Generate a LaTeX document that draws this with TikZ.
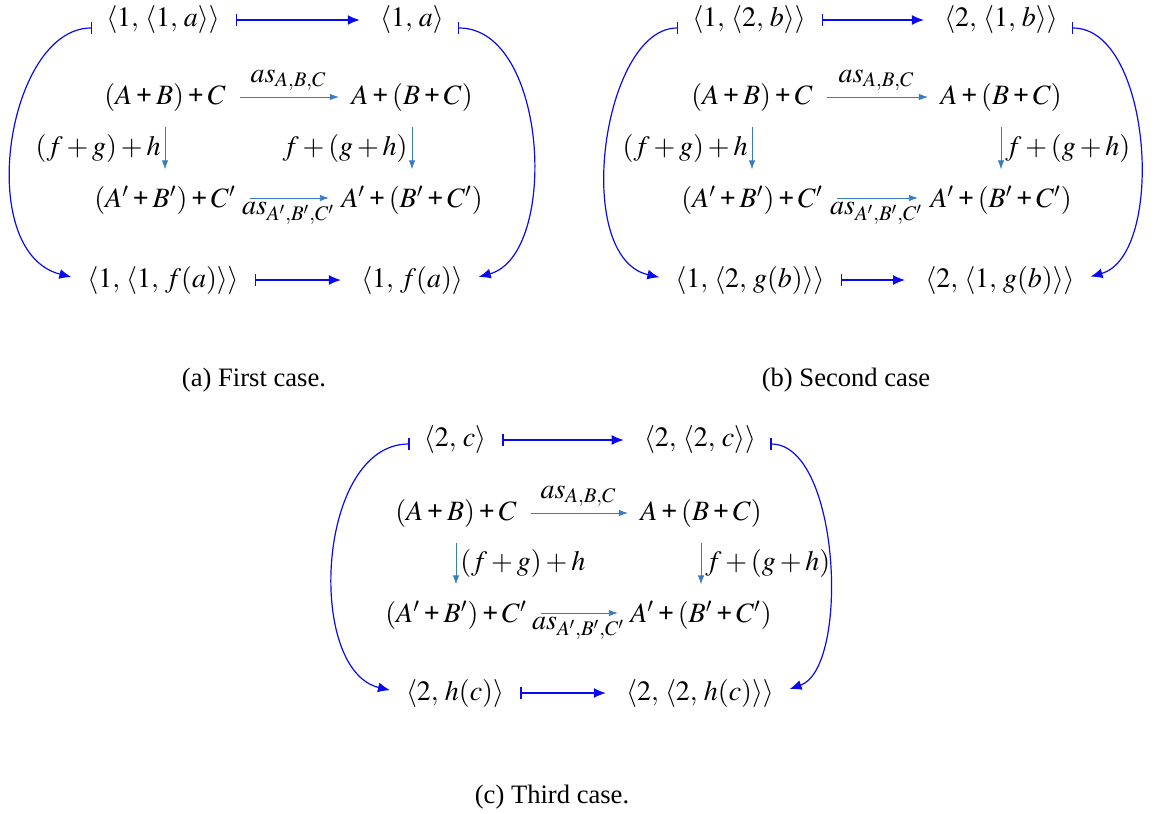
\documentclass[tikz,border=0pt]{standalone}
\usepackage{amsmath}
\usepackage{mathptmx}
\usepackage{fontspec}
\setmainfont{Liberation Serif}
\newfontfamily\capfont{Liberation Serif}
\usetikzlibrary{arrows.meta}
\definecolor{MapBlue}{RGB}{10,10,240}
\definecolor{AsBlue}{RGB}{56,122,196}
\newcommand{\bp}{\mathbin{\textbf{+}}}
\tikzset{
  >={Latex},
  % elementi e oggetti
  elem/.style={inner sep=2pt,font=\fontsize{14}{17}\selectfont},
  obj/.style={elem},
  caption/.style={font=\capfont\fontsize{13.3}{16}\selectfont},
  % frecce
  mapsto/.style={{Bar[width=6pt]}-{Latex[length=6pt,width=5pt]},MapBlue,semithick},
  mapsto h/.style={mapsto,shorten <=6pt,shorten >=8pt},
  bend map/.style={mapsto,shorten <=5pt,shorten >=6pt},
  assoc/.style={-{Latex[length=4.5pt,width=3.2pt]},AsBlue,thin},
  assoc h/.style={assoc,shorten <=5pt,shorten >=4pt},
  assoc v/.style={assoc,shorten <=6pt,shorten >=6pt},
  lab/.style={text=black,font=\fontsize{14}{17}\selectfont,inner sep=2pt}
}
\begin{document}
\begin{tikzpicture}[x=0.5pt,y=-0.5pt]
  \useasboundingbox (0,0) rectangle (1157,814);

  % (a) primo caso
  \node[elem] (a-tl) at (163,20) {$\langle 1,\,\langle 1,\,a\rangle\rangle$};
  \node[elem] (a-tr) at (412,20) {$\langle 1,\,a\rangle$};
  \node[elem] (a-bl) at (163,280) {$\langle 1,\,\langle 1,\,f(a)\rangle\rangle$};
  \node[elem] (a-br) at (412,280) {$\langle 1,\,f(a)\rangle$};
  \node[obj] (a-ab) at (165,97) {$(A\bp B)\bp C$};
  \node[obj] (a-bc) at (412,97) {$A\bp(B\bp C)$};
  \node[obj] (a-ab2) at (165,200) {$(A'\bp B')\bp C'$};
  \node[obj] (a-bc2) at (412,200) {$A'\bp(B'\bp C')$};
  \draw[mapsto h] (a-tl) -- (a-tr);
  \draw[mapsto h] (a-bl) -- (a-br);
  \draw[bend map] ([yshift=-4pt]a-tl.west) .. controls +(-95,0) and +(-110,-28) .. (a-bl.west);
  \draw[bend map] ([yshift=-4pt]a-tr.east) .. controls +(100,0) and +(92,-25) .. (a-br.east);
  \draw[assoc h] (a-ab) -- node[lab,above=1pt]{$as_{A,B,C}$} (a-bc);
  \draw[assoc h] ([yshift=1pt]a-ab2.east) -- node[lab,below]{$as_{A',B',C'}$} ([yshift=1pt]a-bc2.west);
  \draw[assoc v] (a-ab) -- node[lab,left]{$(f+g)+h$} (a-ab2);
  \draw[assoc v] (a-bc) -- node[lab,left]{$f+(g+h)$} (a-bc2);
  \node[caption] (a-cap) at (254,380) {(a) First case.};

  % (b) secondo caso
  \node[elem] (b-tl) at (749,20) {$\langle 1,\,\langle 2,\,b\rangle\rangle$};
  \node[elem] (b-tr) at (1001,20) {$\langle 2,\,\langle 1,\,b\rangle\rangle$};
  \node[elem] (b-bl) at (750,280) {$\langle 1,\,\langle 2,\,g(b)\rangle\rangle$};
  \node[elem] (b-br) at (1000,280) {$\langle 2,\,\langle 1,\,g(b)\rangle\rangle$};
  \node[obj] (b-ab) at (752,97) {$(A\bp B)\bp C$};
  \node[obj] (b-bc) at (1001,97) {$A\bp(B\bp C)$};
  \node[obj] (b-ab2) at (752,200) {$(A'\bp B')\bp C'$};
  \node[obj] (b-bc2) at (1001,200) {$A'\bp(B'\bp C')$};
  \draw[mapsto h] (b-tl) -- (b-tr);
  \draw[mapsto h] (b-bl) -- (b-br);
  \draw[bend map] ([yshift=-4pt]b-tl.west) .. controls +(-85,0) and +(-100,-23) .. (b-bl.west);
  \draw[bend map] ([yshift=-4pt]b-tr.east) .. controls +(90,0) and +(87,-25) .. (b-br.east);
  \draw[assoc h] (b-ab) -- node[lab,above=1pt]{$as_{A,B,C}$} (b-bc);
  \draw[assoc h] ([yshift=1pt]b-ab2.east) -- node[lab,below]{$as_{A',B',C'}$} ([yshift=1pt]b-bc2.west);
  \draw[assoc v] (b-ab) -- node[lab,left]{$(f+g)+h$} (b-ab2);
  \draw[assoc v] (b-bc) -- node[lab,right]{$f+(g+h)$} (b-bc2);
  \node[caption] (b-cap) at (846,380) {(b) Second case};

  % (c) terzo caso
  \node[elem] (c-tl) at (455,440) {$\langle 2,\,c\rangle$};
  \node[elem] (c-tr) at (700,440) {$\langle 2,\,\langle 2,\,c\rangle\rangle$};
  \node[elem] (c-bl) at (455,693) {$\langle 2,\,h(c)\rangle$};
  \node[elem] (c-br) at (700,693) {$\langle 2,\,\langle 2,\,h(c)\rangle\rangle$};
  \node[obj] (c-ab) at (456,513) {$(A\bp B)\bp C$};
  \node[obj] (c-bc) at (701,513) {$A\bp(B\bp C)$};
  \node[obj] (c-ab2) at (456,615) {$(A'\bp B')\bp C'$};
  \node[obj] (c-bc2) at (701,615) {$A'\bp(B'\bp C')$};
  \draw[mapsto h] (c-tl) -- (c-tr);
  \draw[mapsto h] (c-bl) -- (c-br);
  \draw[bend map] ([yshift=-2pt]c-tl.west) .. controls +(-103,0) and +(-96,-23) .. (c-bl.west);
  \draw[bend map] ([yshift=-2pt]c-tr.east) .. controls +(80,0) and +(72,-25) .. (c-br.east);
  \draw[assoc h] (c-ab) -- node[lab,above=1pt]{$as_{A,B,C}$} (c-bc);
  \draw[assoc h] ([yshift=1pt]c-ab2.east) -- node[lab,below]{$as_{A',B',C'}$} ([yshift=1pt]c-bc2.west);
  \draw[assoc v] (c-ab) -- node[lab,right]{$(f+g)+h$} (c-ab2);
  \draw[assoc v] (c-bc) -- node[lab,right]{$f+(g+h)$} (c-bc2);
  \node[caption] (c-cap) at (552,797) {(c) Third case.};
\end{tikzpicture}
\end{document}
